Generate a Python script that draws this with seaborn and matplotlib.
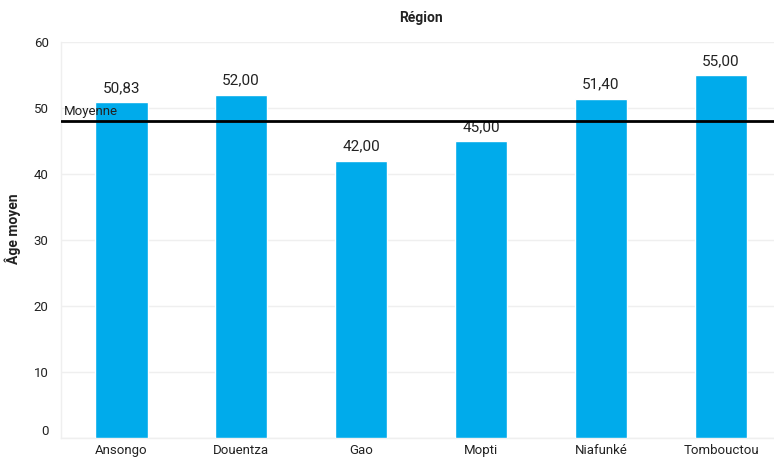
import matplotlib
matplotlib.use("Agg")
import matplotlib.pyplot as plt
import matplotlib.transforms as mtransforms
import seaborn as sns
import pandas as pd

regions = ["Ansongo", "Douentza", "Gao", "Mopti", "Niafunké", "Tombouctou"]
age_moyen = [50.83, 52.00, 42.00, 45.00, 51.40, 55.00]
moyenne = 48.0
y_ticks = [0, 10, 20, 30, 40, 50, 60]

sns.set_theme(style="white")
plt.rcParams["font.family"] = ["Roboto", "DejaVu Sans"]

df = pd.DataFrame({"Région": regions, "Âge moyen": age_moyen})

fig = plt.figure(figsize=(7.74, 4.58), dpi=100)
ax = fig.add_axes([0.079, 0.0437, 0.930, 0.865])

sns.barplot(data=df, x="Région", y="Âge moyen", color="#00ABEB",
            width=0.44, saturation=1, ax=ax, zorder=3)

ax.set_ylim(0, 60)
ax.set_yticks(y_ticks)
ax.grid(axis="y", color="#EFEFEF", linewidth=1, zorder=0)
for s in ["top", "right"]:
    ax.spines[s].set_visible(False)
for s in ["left", "bottom"]:
    ax.spines[s].set_color("#EFEFEF")
    ax.spines[s].set_linewidth(1)
ax.tick_params(axis="both", length=0, labelsize=9.5, colors="#222222")
ax.tick_params(axis="y", pad=9)
ax.tick_params(axis="x", pad=4)

# lift the zero label off the baseline
zero_lbl = ax.get_yticklabels()[0]
zero_lbl.set_transform(zero_lbl.get_transform() +
                       mtransforms.ScaledTranslation(0, 8 / 100, fig.dpi_scale_trans))

for p, v in zip(ax.patches, age_moyen):
    ax.annotate(f"{v:.2f}".replace(".", ","),
                (p.get_x() + p.get_width() / 2, p.get_height()),
                xytext=(0, 5), textcoords="offset points",
                ha="center", va="bottom", fontsize=11, color="#222222")

ax.axhline(moyenne, color="black", linewidth=2, zorder=4)
ax.text(0.004, moyenne + 0.5, "Moyenne", transform=ax.get_yaxis_transform(),
        ha="left", va="bottom", fontsize=9.5, color="#222222", zorder=5)

ax.set_xlabel("")
ax.set_ylabel("Âge moyen", fontsize=10, fontweight="bold", color="#222222")
ax.yaxis.set_label_coords(-0.056, 0.528)
ax.set_title("Région", fontsize=10, fontweight="bold", color="#222222", pad=14)

fig.savefig("out.png", dpi=100)
